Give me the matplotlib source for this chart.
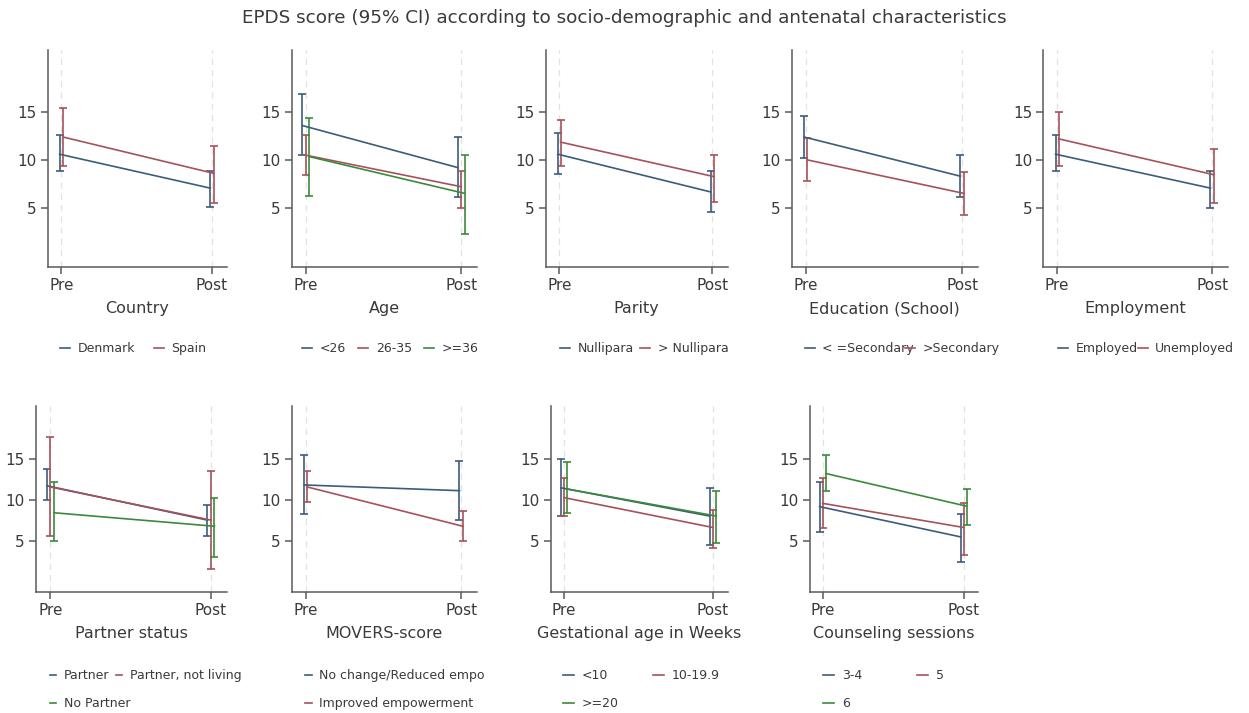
import numpy as np
import matplotlib
matplotlib.use("Agg")
import matplotlib.pyplot as plt
from matplotlib.lines import Line2D

plt.rcParams["font.family"] = ["DejaVu Sans"]

# =========================
# data
# =========================
time_labels = ["Pre", "Post"]

country_groups = ["Denmark", "Spain"]
country_mean = [[10.6, 7.05], [12.4, 8.6]]
country_lo = [[8.85, 5.1], [9.4, 5.5]]
country_hi = [[12.6, 8.8], [15.4, 11.5]]

age_groups = ["<26", "26-35", ">=36"]
age_mean = [[13.6, 9.2], [10.5, 7.2], [10.35, 6.5]]
age_lo = [[10.5, 6.1], [8.4, 5.0], [6.2, 2.2]]
age_hi = [[16.9, 12.4], [12.6, 8.85], [14.4, 10.5]]

parity_groups = ["Nullipara", "> Nullipara"]
parity_mean = [[10.6, 6.65], [11.85, 8.25]]
parity_lo = [[8.5, 4.6], [9.4, 5.65]]
parity_hi = [[12.8, 8.85], [14.2, 10.5]]

edu_groups = ["< =Secondary", ">Secondary"]
edu_mean = [[12.4, 8.3], [10.0, 6.5]]
edu_lo = [[10.2, 6.1], [7.75, 4.2]]
edu_hi = [[14.6, 10.5], [12.3, 8.7]]

emp_groups = ["Employed", "Unemployed"]
emp_mean = [[10.6, 7.05], [12.2, 8.45]]
emp_lo = [[8.85, 5.0], [9.4, 5.5]]
emp_hi = [[12.6, 8.85], [15.0, 11.1]]

partner_groups = ["Partner", "Partner, not living", "No Partner"]
partner_mean = [[11.75, 7.55], [11.6, 7.55], [8.45, 6.8]]
partner_lo = [[10.0, 5.6], [5.6, 1.55], [5.0, 3.05]]
partner_hi = [[13.75, 9.4], [17.7, 13.55], [12.15, 10.3]]

movers_groups = ["No change/Reduced empo", "Improved empowerment"]
movers_mean = [[11.85, 11.15], [11.6, 6.8]]
movers_lo = [[8.3, 7.55], [9.8, 5.0]]
movers_hi = [[15.5, 14.8], [13.55, 8.7]]

gest_groups = ["<10", "10-19.9", ">=20"]
gest_mean = [[11.5, 8.05], [10.3, 6.65], [11.35, 8.05]]
gest_lo = [[8.05, 4.55], [8.05, 4.2], [8.4, 4.8]]
gest_hi = [[15.0, 11.5], [12.65, 8.8], [14.7, 11.15]]

couns_groups = ["3-4", "5", "6"]
couns_mean = [[9.2, 5.5], [9.6, 6.65], [13.25, 9.25]]
couns_lo = [[6.1, 2.4], [6.6, 3.25], [11.15, 6.95]]
couns_hi = [[12.25, 8.3], [12.65, 9.6], [15.5, 11.35]]

colors = ["#3d5b7c", "#a5525a", "#3b8a3b"]
text_c = "#3a3a3a"
axis_c = "#5a5a5a"

W, H = 1249, 713
fig = plt.figure(figsize=(W / 100, H / 100), dpi=100)
fig.text(0.5, 1 - 18 / H, "EPDS score (95% CI) according to socio-demographic and antenatal characteristics",
         ha="center", va="center", fontsize=13.2, color=text_c)

# pixel layout: axes box (left, right, top, bottom), legend anchor (x, top), ncol, colspacing, handlelength
panels = [
    ("Country", country_groups, country_mean, country_lo, country_hi,
     (47.7, 227, 50, 267), (60, 342), 2, 1.5, 0.8),
    ("Age", age_groups, age_mean, age_lo, age_hi,
     (291.7, 476.7, 50, 267), (302, 342), 3, 1.0, 0.8),
    ("Parity", parity_groups, parity_mean, parity_lo, parity_hi,
     (545.7, 727.7, 50, 267), (560, 342), 2, 0.5, 0.8),
    ("Education (School)", edu_groups, edu_mean, edu_lo, edu_hi,
     (791.7, 977.7, 50, 267), (805, 342), 2, -0.7, 0.8),
    ("Employment", emp_groups, emp_mean, emp_lo, emp_hi,
     (1043.3, 1227.7, 50, 267), (1058, 342), 2, 0.0, 0.8),
    ("Partner status", partner_groups, partner_mean, partner_lo, partner_hi,
     (36, 227, 406, 591.7), (50, 669), 2, -1.15, 0.5),
    ("MOVERS-score", movers_groups, movers_mean, movers_lo, movers_hi,
     (291.7, 476.7, 406, 591.7), (305, 669), 1, 1.0, 0.55),
    ("Gestational age in Weeks", gest_groups, gest_mean, gest_lo, gest_hi,
     (550.7, 727.7, 406, 591.7), (563, 669), 2, 2.7, 0.9),
    ("Counseling sessions", couns_groups, couns_mean, couns_lo, couns_hi,
     (810, 977.7, 406, 591.7), (823, 669), 2, 4.4, 0.9),
]

x_pos = np.array([1, 2])

for title, groups, means, los, his, box, leg_xy, ncol, colsp, hlen in panels:
    l, r, t, b = box
    ax = fig.add_axes([l / W, 1 - b / H, (r - l) / W, (b - t) / H])

    for xv in x_pos:
        ax.axvline(xv, color="#e2e2e2", linestyle=(0, (5, 4)), linewidth=0.9, zorder=0)

    n = len(groups)
    handles = []
    for i, g in enumerate(groups):
        m = np.array(means[i])
        lo = np.array(los[i])
        hi = np.array(his[i])
        off = (i - (n - 1) / 2) * 0.022
        ax.errorbar(x_pos + off, m, yerr=[m - lo, hi - m], fmt="-", color=colors[i],
                    linewidth=1.2, elinewidth=1.2, capsize=3, capthick=1.2)
        handles.append(Line2D([], [], color=colors[i], linewidth=1.2, label=g))

    ax.set_xlim(0.91, 2.1)
    ax.set_ylim(-1.2, 21.5)
    ax.set_yticks([5, 10, 15])
    ax.set_xticks(x_pos)
    ax.set_xticklabels(time_labels)
    ax.set_xlabel(title, fontsize=11.5, color=text_c, labelpad=6)

    for s in ["top", "right"]:
        ax.spines[s].set_visible(False)
    for s in ["left", "bottom"]:
        ax.spines[s].set_color(axis_c)
        ax.spines[s].set_linewidth(1.1)
    ax.tick_params(axis="both", colors=axis_c, labelcolor=text_c, labelsize=11,
                   length=5, width=1.1, pad=3)

    # stata fills legend rows first, matplotlib fills columns first
    if ncol == 2 and n == 3:
        handles = [handles[0], handles[2], handles[1]]

    ax.legend(handles=handles, loc="upper left", bbox_to_anchor=(leg_xy[0] / W, 1 - leg_xy[1] / H),
              bbox_transform=fig.transFigure, ncol=ncol, frameon=False, fontsize=9,
              handlelength=hlen, handletextpad=0.6, columnspacing=colsp,
              labelspacing=1.2, borderpad=0, borderaxespad=0, labelcolor=text_c)

fig.savefig("out.png", dpi=100, facecolor="white")
